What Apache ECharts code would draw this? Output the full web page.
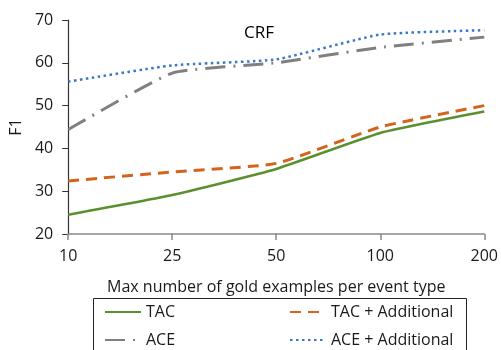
<!DOCTYPE html>
<html><head><meta charset="utf-8">
<script src="https://cdn.jsdelivr.net/npm/echarts@6/dist/echarts.min.js"></script>
<style>html,body{margin:0;padding:0;background:#fff}#c{width:501px;height:350px}</style>
</head><body><div id="c"></div>
<script>
const categories = ['10', '25', '50', '100', '200'];
const tac = [24.5, 29.1, 35.2, 43.6, 48.6];
const tacAdd = [32.4, 34.5, 36.5, 45.0, 50.0];
const ace = [44.4, 57.6, 60.0, 63.6, 66.0];
const aceAdd = [55.6, 59.4, 60.8, 66.6, 67.6];
const yTicks = { min: 20, max: 70, interval: 10 };

const font = 'Open Sans';
const txt = { fontSize: 16, color: '#1a1a1a', fontFamily: font };
const legendCommon = {
  orient: 'vertical', top: 304, itemWidth: 36, itemHeight: 14, itemGap: 12, padding: 0,
  itemStyle: { opacity: 0 }, textStyle: txt
};
const chart = echarts.init(document.getElementById('c'));
chart.setOption({
  animation: false,
  textStyle: { fontFamily: font },
  title: { text: 'CRF', left: 239, top: 20, textStyle: { fontFamily: font, fontSize: 17, fontWeight: 'normal', color: '#000' } },
  grid: { left: 68, right: 15, top: 20, bottom: 116 },
  graphic: [{ type: 'rect', left: 91, top: 296, shape: { width: 373, height: 80 },
    style: { fill: 'none', stroke: '#222', lineWidth: 1 } }],
  xAxis: {
    type: 'category', data: categories, boundaryGap: false,
    name: 'Max number of gold examples per event type', nameLocation: 'middle', nameGap: 45,
    nameTextStyle: txt,
    axisLine: { lineStyle: { color: '#888', width: 1.5 } },
    axisTick: { show: true, length: 6, lineStyle: { color: '#888', width: 1.5 } },
    axisLabel: Object.assign({ margin: 14 }, txt)
  },
  yAxis: {
    type: 'value', min: yTicks.min, max: yTicks.max, interval: yTicks.interval,
    name: 'F1', nameLocation: 'middle', nameGap: 44, nameRotate: 90,
    nameTextStyle: txt,
    axisLine: { show: true, lineStyle: { color: '#333', width: 1.2 } },
    axisTick: { show: true, length: 6, lineStyle: { color: '#333' } },
    splitLine: { show: false },
    axisLabel: Object.assign({ margin: 15 }, txt)
  },
  legend: [
    Object.assign({ left: 104, data: ['TAC', 'ACE'] }, legendCommon),
    Object.assign({ left: 289, data: ['TAC + Additional', 'ACE + Additional'] }, legendCommon)
  ],
  series: [
    { name: 'TAC', type: 'line', data: tac, smooth: 0.15, symbol: 'none',
      lineStyle: { color: '#5b8f30', width: 2.5 }, itemStyle: { color: '#5b8f30' } },
    { name: 'TAC + Additional', type: 'line', data: tacAdd, smooth: 0.15, symbol: 'none',
      lineStyle: { color: '#d4641c', width: 3, type: [11, 7] }, itemStyle: { color: '#d4641c' } },
    { name: 'ACE', type: 'line', data: ace, smooth: 0.15, symbol: 'none',
      lineStyle: { color: '#808080', width: 3, type: [20, 8, 2, 8] }, itemStyle: { color: '#808080' } },
    { name: 'ACE + Additional', type: 'line', data: aceAdd, smooth: 0.15, symbol: 'none',
      lineStyle: { color: '#3a78c4', width: 2.5, type: [2.5, 3.5] }, itemStyle: { color: '#3a78c4' } }
  ]
});
</script></body></html>
